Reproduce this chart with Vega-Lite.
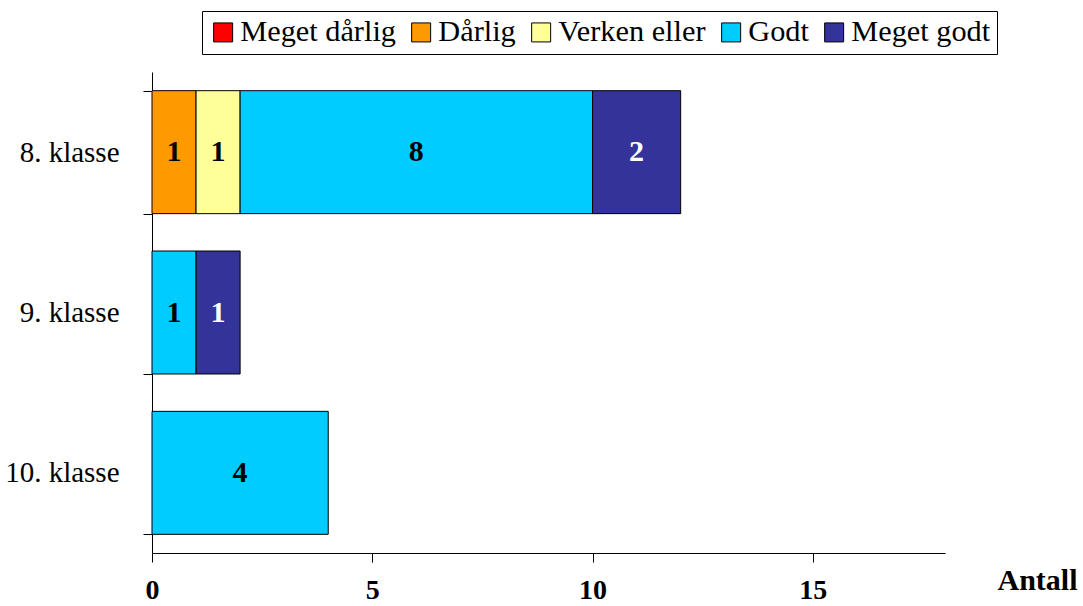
{
  "$schema": "https://vega.github.io/schema/vega-lite/v6.json",
  "autosize": "none",
  "width": 793,
  "height": 481,
  "padding": {"left": 152, "top": 72, "right": 138, "bottom": 53},
  "background": "white",
  "config": {"view": {"stroke": null}, "font": "Liberation Serif"},
  "data": {
    "values": [
      {"klasse": "8. klasse", "series": "Dårlig", "rank": 2, "antall": 1},
      {"klasse": "8. klasse", "series": "Verken eller", "rank": 3, "antall": 1},
      {"klasse": "8. klasse", "series": "Godt", "rank": 4, "antall": 8},
      {"klasse": "8. klasse", "series": "Meget godt", "rank": 5, "antall": 2},
      {"klasse": "9. klasse", "series": "Godt", "rank": 4, "antall": 1},
      {"klasse": "9. klasse", "series": "Meget godt", "rank": 5, "antall": 1},
      {"klasse": "10. klasse", "series": "Godt", "rank": 4, "antall": 4}
    ]
  },
  "encoding": {
    "y": {
      "field": "klasse",
      "type": "nominal",
      "sort": ["8. klasse", "9. klasse", "10. klasse"],
      "scale": {"paddingInner": 0.233, "paddingOuter": 0.1165},
      "axis": {
        "title": null,
        "tickBand": "extent",
        "domainColor": "black",
        "tickColor": "black",
        "tickSize": 9,
        "labelFont": "Liberation Serif",
        "labelFontSize": 29,
        "labelColor": "black",
        "labelPadding": 24,
        "labelFontWeight": "normal"
      }
    }
  },
  "layer": [
    {
      "mark": {"type": "bar", "stroke": "black", "strokeWidth": 1},
      "encoding": {
        "x": {
          "field": "antall",
          "type": "quantitative",
          "stack": "zero",
          "scale": {"domain": [0, 18], "nice": false},
          "axis": {
            "values": [0, 5, 10, 15],
            "grid": false,
            "domainColor": "black",
            "tickColor": "black",
            "tickSize": 9,
            "labelFont": "Liberation Serif",
            "labelFontSize": 28,
            "labelFontWeight": "bold",
            "labelColor": "black",
            "labelPadding": 14,
            "labelBaseline": "top",
            "labelFlush": false,
            "title": "Antall",
            "titleFont": "Liberation Serif",
            "titleFontSize": 30,
            "titleFontWeight": "bold",
            "titleColor": "black",
            "titleAnchor": "start",
            "titleAlign": "center",
            "titleBaseline": "middle",
            "titleX": 885,
            "titleY": 27
          }
        },
        "color": {
          "field": "series",
          "type": "nominal",
          "scale": {
            "domain": ["Meget dårlig", "Dårlig", "Verken eller", "Godt", "Meget godt"],
            "range": ["#FF0000", "#FF9900", "#FFFF99", "#00CCFF", "#333399"]
          },
          "legend": {
            "title": null,
            "orient": "none",
            "legendX": 50,
            "legendY": -61,
            "direction": "horizontal",
            "columns": 5,
            "symbolType": "square",
            "symbolSize": 361,
            "symbolStrokeColor": "black",
            "symbolStrokeWidth": 1,
            "labelFont": "Liberation Serif",
            "labelFontSize": 30.3,
            "labelColor": "black",
            "labelOffset": 2,
            "labelLimit": 400,
            "columnPadding": 10,
            "padding": 6,
            "strokeColor": "black",
            "fillColor": "white"
          }
        },
        "order": {"field": "rank", "type": "quantitative"}
      }
    },
    {
      "mark": {"type": "text", "font": "Liberation Serif", "fontSize": 30, "fontWeight": "bold", "baseline": "middle", "align": "center"},
      "encoding": {
        "x": {"field": "antall", "type": "quantitative", "stack": "zero", "bandPosition": 0.5, "title": "Antall"},
        "detail": {"field": "series", "type": "nominal"},
        "order": {"field": "rank", "type": "quantitative"},
        "text": {"field": "antall", "type": "quantitative"},
        "color": {
          "condition": {"test": "datum.series === 'Meget godt'", "value": "white"},
          "value": "black"
        }
      }
    }
  ]
}
